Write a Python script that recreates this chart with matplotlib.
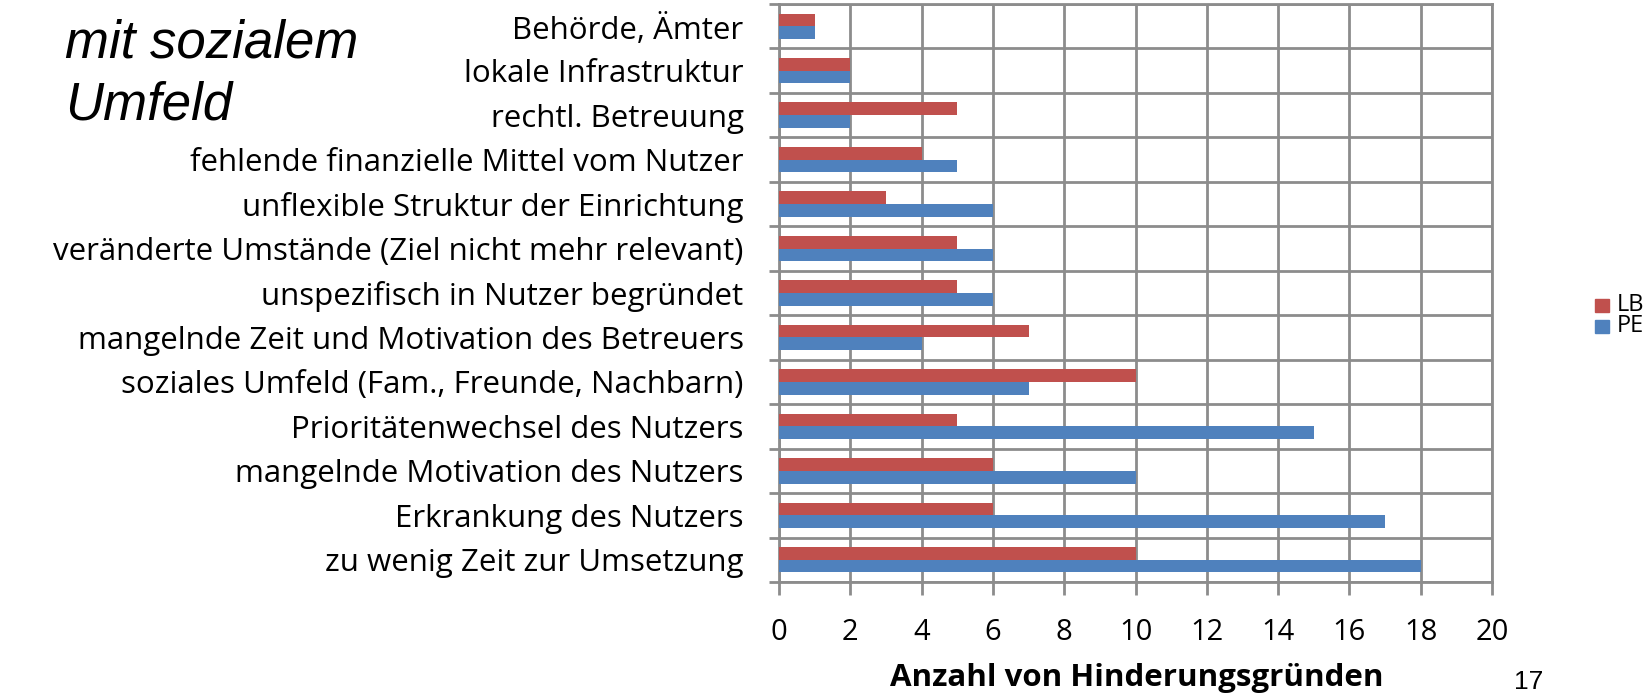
import matplotlib
matplotlib.use("Agg")
import matplotlib.pyplot as plt
import numpy as np
from matplotlib.patches import Rectangle

categories = [
    "Behörde, Ämter",
    "lokale Infrastruktur",
    "rechtl. Betreuung",
    "fehlende finanzielle Mittel vom Nutzer",
    "unflexible Struktur der Einrichtung",
    "veränderte Umstände (Ziel nicht mehr relevant)",
    "unspezifisch in Nutzer begründet",
    "mangelnde Zeit und Motivation des Betreuers",
    "soziales Umfeld (Fam., Freunde, Nachbarn)",
    "Prioritätenwechsel des Nutzers",
    "mangelnde Motivation des Nutzers",
    "Erkrankung des Nutzers",
    "zu wenig Zeit zur Umsetzung",
]
lb_values = [1, 2, 5, 4, 3, 5, 5, 7, 10, 5, 6, 6, 10]
pe_values = [1, 2, 2, 5, 6, 6, 6, 4, 7, 15, 10, 17, 18]
x_ticks = [0, 2, 4, 6, 8, 10, 12, 14, 16, 18, 20]
series_names = ["LB", "PE"]

RED = "#C0504D"
BLUE = "#4F81BD"
GRID = "#8C8C8C"
FONT = "Open Sans"

fig = plt.figure(figsize=(16.48, 6.94), dpi=100)
ax = fig.add_axes([779/1648, 1 - 582/694, (1492-779)/1648, (582-4)/694])

y = np.arange(len(categories))
h = 0.2857
ax.barh(y - h/2, lb_values, height=h, color=RED, zorder=3)
ax.barh(y + h/2, pe_values, height=h, color=BLUE, zorder=3)

ax.set_ylim(len(categories) - 0.5, -0.5)
ax.set_xlim(0, 20)
ax.set_xticks(x_ticks)
ax.set_xticklabels([str(t) for t in x_ticks], fontfamily=FONT, fontsize=21)
ax.set_yticks(y)
ax.set_yticklabels(categories, fontfamily=FONT, fontsize=22.5)
ax.set_yticks(np.arange(len(categories) + 1) - 0.5, minor=True)

ax.tick_params(axis="y", which="major", length=0, pad=25.5)
ax.tick_params(axis="y", which="minor", length=7, width=2, color=GRID)
ax.tick_params(axis="x", which="major", length=9, width=2, color=GRID, pad=17)

ax.grid(True, axis="x", which="major", color=GRID, linewidth=2, zorder=0)
ax.grid(True, axis="y", which="minor", color=GRID, linewidth=2, zorder=0)
for s in ax.spines.values():
    s.set_color(GRID)
    s.set_linewidth(2)

fig.text(1137/1648, 1 - 686/694, "Anzahl von Hinderungsgründen", fontfamily=FONT,
         fontsize=22.5, fontweight="bold", ha="center", va="baseline")

# legend
for i, (name, col) in enumerate(zip(series_names, [RED, BLUE])):
    yy = 1 - (305 + 21*i)/694
    fig.patches.append(Rectangle((1595/1648, yy - 6.5/694), 14/1648, 13/694,
                                 transform=fig.transFigure, color=col))
    fig.text(1617/1648, yy, name, fontfamily=FONT, fontsize=17, va="center", ha="left")

fig.text(65/1648, 1 - 58/694, "mit sozialem", fontfamily="Liberation Sans",
         style="italic", fontsize=38, va="baseline", ha="left")
fig.text(65/1648, 1 - 119/694, "Umfeld", fontfamily="Liberation Sans",
         style="italic", fontsize=38, va="baseline", ha="left")
fig.text(1529/1648, 1 - 689/694, "17", fontfamily="Liberation Sans", fontsize=19,
         ha="center", va="baseline")

fig.savefig("out.png", dpi=100)
